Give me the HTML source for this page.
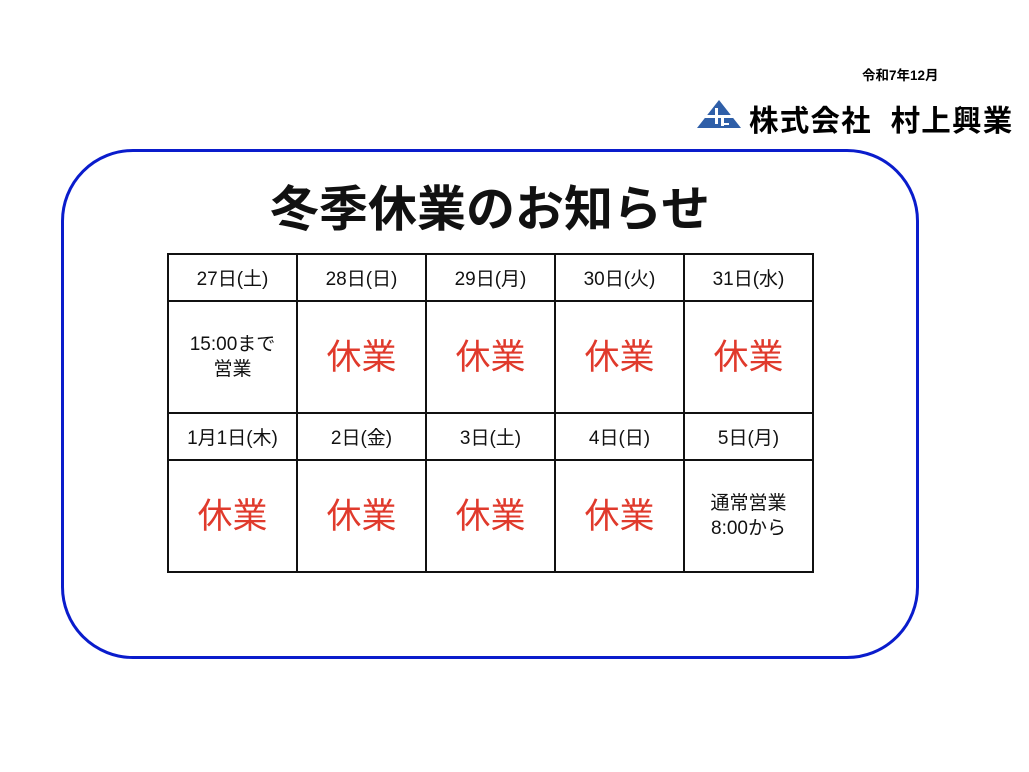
<!DOCTYPE html>
<html><head><meta charset="utf-8"><style>
body{margin:0;width:1029px;height:772px;background:#fff;position:relative;overflow:hidden;font-family:"Liberation Sans","Noto Sans CJK JP",sans-serif}
.a{position:absolute}
table{position:absolute;left:167px;top:253px;border-collapse:collapse;table-layout:fixed;width:647px}
td{border:2px solid #111;width:127px;text-align:center;padding:0;color:#111}
tr.h td{height:45px;font-size:19px}
tr.b td{height:110px;font-size:19px;line-height:25px}
.r{color:#e03a2c;font-size:35px!important}
</style></head><body>
<div class="a" style="left:862px;top:64px;font-size:13.5px;font-weight:bold">令和7年12月</div>
<svg class="a" style="left:695px;top:98px" width="48" height="32"><polygon points="24,2 46,30 2,30" fill="#2f5fa8"/><rect x="10" y="17" width="28" height="3" fill="#fff"/><rect x="20" y="10" width="3" height="16" fill="#fff"/><rect x="26" y="20" width="3" height="8" fill="#fff"/><rect x="26" y="25" width="8" height="2" fill="#fff"/></svg>
<div class="a" style="left:749px;top:98px;font-size:29.5px;font-weight:bold;letter-spacing:1.2px;white-space:pre">株式会社  村上興業</div>
<div class="a" style="left:61px;top:149px;width:852px;height:504px;border:3px solid #0a1ccc;border-radius:72px"></div>
<div class="a" style="left:0;width:980px;top:170px;text-align:center;font-size:49px;font-weight:bold;color:#111">冬季休業のお知らせ</div>
<table>
<tr class="h"><td>27日(土)</td><td>28日(日)</td><td>29日(月)</td><td>30日(火)</td><td>31日(水)</td></tr>
<tr class="b"><td>15:00まで<br>営業</td><td class="r">休業</td><td class="r">休業</td><td class="r">休業</td><td class="r">休業</td></tr>
<tr class="h"><td>1月1日(木)</td><td>2日(金)</td><td>3日(土)</td><td>4日(日)</td><td>5日(月)</td></tr>
<tr class="b"><td class="r">休業</td><td class="r">休業</td><td class="r">休業</td><td class="r">休業</td><td>通常営業<br>8:00から</td></tr>
</table>
</body></html>
